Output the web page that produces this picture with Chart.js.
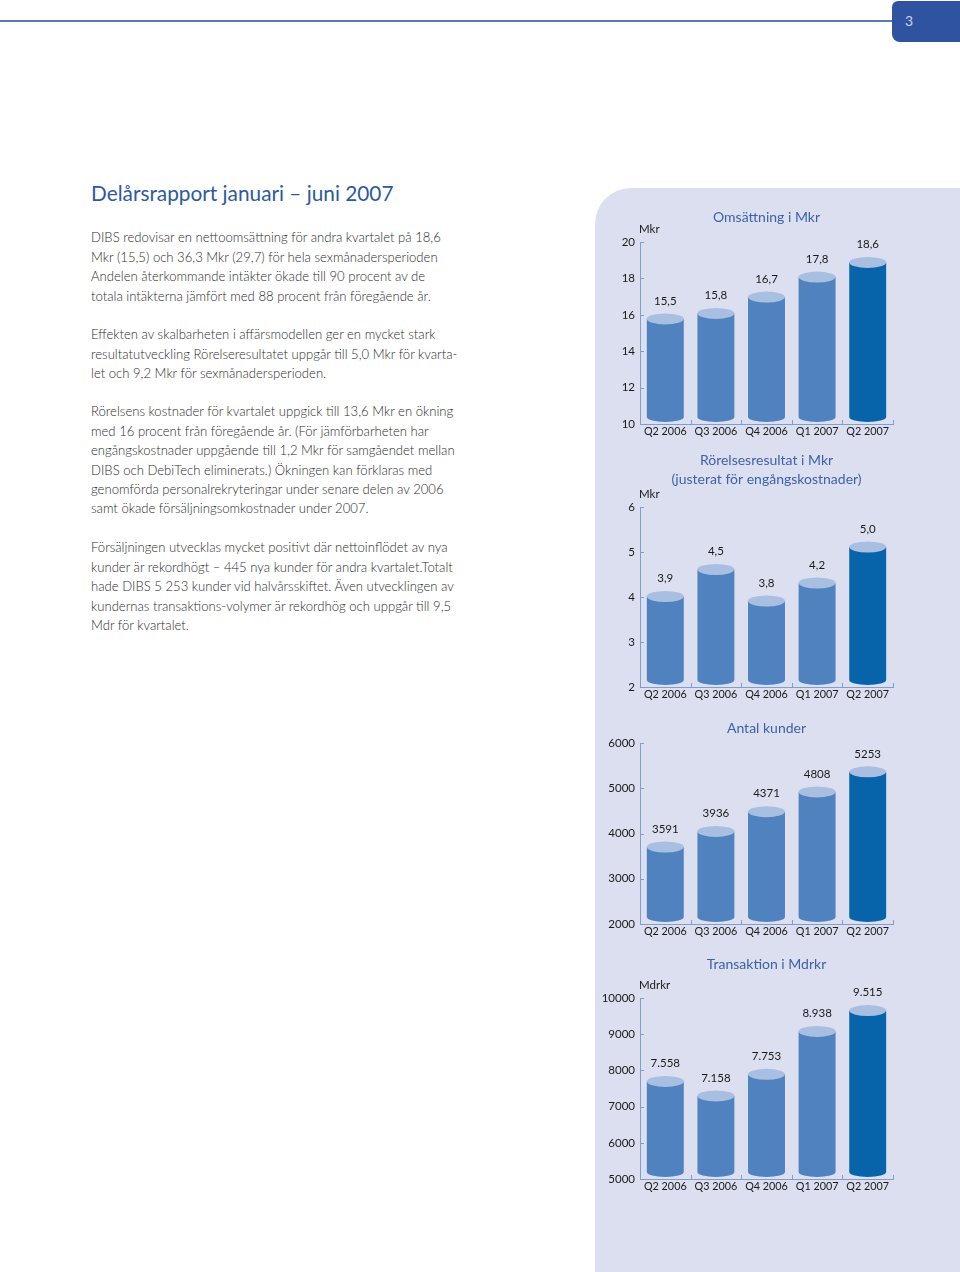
<!DOCTYPE html>
<html><head><meta charset="utf-8">
<script src="https://cdn.jsdelivr.net/npm/chart.js@4.4.1/dist/chart.umd.min.js"></script>
<style>
html,body{margin:0;padding:0;background:#fff;}
body{width:960px;height:1272px;position:relative;overflow:hidden;font-family:Lato,'Open Sans',sans-serif;}
#rule{position:absolute;left:0;top:20px;width:893px;height:1.5px;background:#5b79ad;}
#tab{position:absolute;left:892px;top:1px;width:68px;height:41px;background:#2f53a0;border-radius:6px 0 0 8px;color:#c9d4ee;font-size:14px;}
#tab span{position:absolute;left:13px;top:11px;}
h1{position:absolute;left:91px;top:180px;margin:0;font-weight:400;font-size:20.8px;line-height:26px;color:#2e5a9c;white-space:nowrap;}
.p{position:absolute;left:91px;font-size:13.1px;line-height:19.4px;color:#2c2c2c;white-space:nowrap;font-weight:300;}
#panel{position:absolute;left:595px;top:188px;width:365px;height:1084px;background:#dcdfef;border-top-left-radius:36px;}
canvas{position:absolute;left:600px;}
</style></head>
<body>
<div id="rule"></div>
<div id="tab"><span>3</span></div>
<h1>Delårsrapport januari – juni 2007</h1>
<div class="p" style="top:228.3px">DIBS redovisar en nettoomsättning för andra kvartalet på 18,6<br>Mkr (15,5) och 36,3 Mkr (29,7) för hela sexmånadersperioden<br>Andelen återkommande intäkter ökade till 90 procent av de<br>totala intäkterna jämfört med 88 procent från föregående år.</div>
<div class="p" style="top:325.3px">Effekten av skalbarheten i affärsmodellen ger en mycket stark<br>resultatutveckling Rörelseresultatet uppgår till 5,0 Mkr för kvarta-<br>let och 9,2 Mkr för sexmånadersperioden.</div>
<div class="p" style="top:402.3px">Rörelsens kostnader för kvartalet uppgick till 13,6 Mkr en ökning<br>med 16 procent från föregående år. (För jämförbarheten har<br>engångskostnader uppgående till 1,2 Mkr för samgåendet mellan<br>DIBS och DebiTech eliminerats.) Ökningen kan förklaras med<br>genomförda personalrekryteringar under senare delen av 2006<br>samt ökade försäljningsomkostnader under 2007.</div>
<div class="p" style="top:538.3px">Försäljningen utvecklas mycket positivt där nettoinflödet av nya<br>kunder är rekordhögt – 445 nya kunder för andra kvartalet.Totalt<br>hade DIBS 5 253 kunder vid halvårsskiftet. Även utvecklingen av<br>kundernas transaktions-volymer är rekordhög och uppgår till 9,5<br>Mdr för kvartalet.</div>
<div id="panel"></div>
<canvas id="c1" width="313" height="245" style="top:195px"></canvas>
<canvas id="c2" width="313" height="263" style="top:440px"></canvas>
<canvas id="c3" width="313" height="237" style="top:703px"></canvas>
<canvas id="c4" width="313" height="255" style="top:940px"></canvas>
<script>
// ---- data ----
const quarters = ['Q2 2006', 'Q3 2006', 'Q4 2006', 'Q1 2007', 'Q2 2007'];
const omsattning = [15.5, 15.8, 16.7, 17.8, 18.6];
const rorelseresultat = [3.9, 4.5, 3.8, 4.2, 5.0];
const antalKunder = [3591, 3936, 4371, 4808, 5253];
const transaktion = [7558, 7158, 7753, 8938, 9515];
const ticksOmsattning = [10, 12, 14, 16, 18, 20];
const ticksRorelse = [2, 3, 4, 5, 6];
const ticksKunder = [2000, 3000, 4000, 5000, 6000];
const ticksTransaktion = [5000, 6000, 7000, 8000, 9000, 10000];

// ---- style ----
const BODY = '#4f82bf', BODY_LAST = '#0764aa', TOP = '#a9bfe1';
const AXIS = '#7f9ed0', TITLE = '#3d62a8', TEXT = '#1a1a1a';
Chart.defaults.font.family = 'Lato, "Open Sans", sans-serif';
Chart.defaults.color = TEXT;

const fmtComma = v => v.toFixed(1).replace('.', ',');
const fmtInt = v => String(v);
const fmtThousandDot = v => (v / 1000).toFixed(3);

const cylinder = {
  id: 'cylinder',
  beforeDatasetDraw(chart, args) {
    const ctx = chart.ctx;
    const base = chart.scales.y.bottom;
    ctx.save();
    args.meta.data.forEach(bar => {
      const p = bar.getProps(['x', 'y', 'width'], true);
      const rx = p.width / 2, ry = 5.5;
      const cyTop = p.y - 5;
      const cyBot = base - 7;
      ctx.fillStyle = bar.options.backgroundColor;
      ctx.beginPath();
      ctx.moveTo(p.x - rx, cyTop);
      ctx.lineTo(p.x - rx, cyBot);
      ctx.ellipse(p.x, cyBot, rx, 5, 0, Math.PI, 0, true);
      ctx.lineTo(p.x + rx, cyTop);
      ctx.closePath();
      ctx.fill();
      ctx.fillStyle = TOP;
      ctx.beginPath();
      ctx.ellipse(p.x, cyTop, rx, ry, 0, 0, Math.PI * 2);
      ctx.fill();
    });
    ctx.restore();
    return false;
  }
};

const decor = {
  id: 'decor',
  afterDraw(chart, args, opts) {
    const {ctx, chartArea: a, scales: {x, y}} = chart;
    ctx.save();
    ctx.strokeStyle = AXIS; ctx.lineWidth = 1;
    y.ticks.forEach((t, i) => {
      const py = Math.round(y.getPixelForTick(i)) + 0.5;
      ctx.beginPath(); ctx.moveTo(a.left, py); ctx.lineTo(a.left + 4, py); ctx.stroke();
    });
    const w = x.getPixelForValue(1) - x.getPixelForValue(0);
    x.ticks.forEach((t, i) => {
      const px = Math.round(x.getPixelForValue(i) + w / 2) + 0.5;
      ctx.beginPath(); ctx.moveTo(px, a.bottom); ctx.lineTo(px, a.bottom - 4); ctx.stroke();
    });
    if (opts.unit) {
      ctx.fillStyle = TEXT;
      ctx.font = '11.5px Lato, "Open Sans", sans-serif';
      ctx.textAlign = 'left'; ctx.textBaseline = 'middle';
      ctx.fillText(opts.unit, a.left - 1, a.top - 12.5);
    }
    const meta = chart.getDatasetMeta(0);
    const vals = chart.data.datasets[0].data;
    ctx.fillStyle = TEXT;
    ctx.font = '11.5px Lato, "Open Sans", sans-serif';
    ctx.textAlign = 'center'; ctx.textBaseline = 'middle';
    meta.data.forEach((bar, i) => {
      ctx.fillText(opts.fmt(vals[i]), bar.x, bar.y - 23);
    });
    ctx.restore();
  }
};

function makeChart(id, values, ticks, title, titlePad, unit, fmt, lineHeight) {
  const colors = values.map((v, i) => i === values.length - 1 ? BODY_LAST : BODY);
  return new Chart(document.getElementById(id), {
    type: 'bar',
    data: {labels: quarters, datasets: [{data: values, backgroundColor: colors, barPercentage: 0.73, categoryPercentage: 1}]},
    options: {
      responsive: false, animation: false,
      layout: {padding: {left: 0, right: 20, top: 0, bottom: 0}},
      plugins: {
        legend: {display: false}, tooltip: {enabled: false},
        title: {display: true, text: title, fullSize: false, color: TITLE,
          font: {size: 14, weight: 'normal', lineHeight: lineHeight || 1.2}, padding: titlePad},
        decor: {unit: unit, fmt: fmt}
      },
      scales: {
        x: {
          grid: {display: true, drawOnChartArea: false, drawTicks: false},
          border: {display: true, color: AXIS, width: 1},
          ticks: {padding: 1, font: {size: 10.8}, color: TEXT, maxRotation: 0},
          afterFit: s => { s.height = 16; }
        },
        y: {
          min: ticks[0], max: ticks[ticks.length - 1],
          grid: {display: true, drawOnChartArea: false, drawTicks: false},
          border: {display: true, color: AXIS, width: 1},
          ticks: {padding: 5, font: {size: 11.5}, color: TEXT, callback: v => fmtInt(v)},
          afterBuildTicks: s => { s.ticks = ticks.map(v => ({value: v})); },
          afterFit: s => { s.width = 40; }
        }
      }
    },
    plugins: [cylinder, decor]
  });
}

makeChart('c1', omsattning, ticksOmsattning, 'Omsättning i Mkr', {top: 13.6, bottom: 16.6}, 'Mkr', fmtComma);
makeChart('c2', rorelseresultat, ticksRorelse, ['Rörelsesresultat i Mkr', '(justerat för engångskostnader)'], {top: 10.5, bottom: 18.5}, 'Mkr', fmtComma, 19 / 14);
makeChart('c3', antalKunder, ticksKunder, 'Antal kunder', {top: 16.6, bottom: 6.6}, null, fmtInt);
makeChart('c4', transaktion, ticksTransaktion, 'Transaktion i Mdrkr', {top: 15.6, bottom: 25.6}, 'Mdrkr', fmtThousandDot);
</script>
</body></html>
